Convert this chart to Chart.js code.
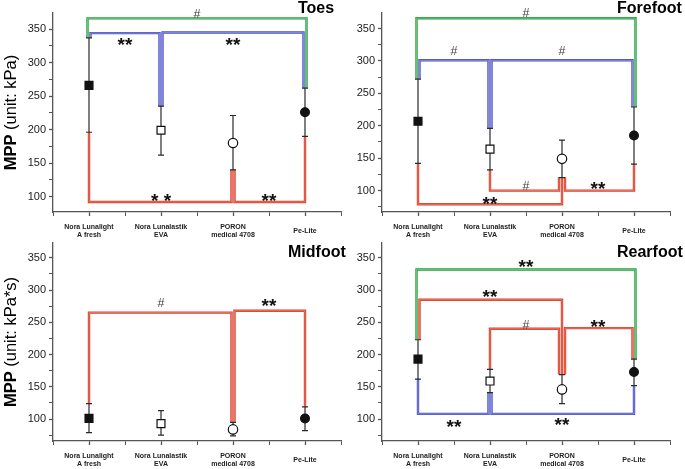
<!DOCTYPE html>
<html>
<head>
<meta charset="utf-8">
<script src="https://cdn.jsdelivr.net/npm/chart.js@4.4.0/dist/chart.umd.min.js"></script>
<style>
  html, body { margin: 0; padding: 0; background: #fff; }
  #wrap { position: relative; width: 685px; height: 469px; overflow: hidden; }
  #wrap canvas { position: absolute; left: 0; top: 0; }
</style>
</head>
<body>
<div id="wrap">
  <canvas id="cToes" width="685" height="469"></canvas>
  <canvas id="cForefoot" width="685" height="469"></canvas>
  <canvas id="cMidfoot" width="685" height="469"></canvas>
  <canvas id="cRearfoot" width="685" height="469"></canvas>
</div>
<script>
// insole materials (x categories)
const materials = [['Nora Lunalight', 'A fresh'], ['Nora Lunalastik', 'EVA'], ['PORON', 'medical 4708'], ['Pe-Lite']];
const yTickLabels = [100, 150, 200, 250, 300, 350];

// mean peak pressure and error bar ends, per foot region
const toesMean = [266, 199, 180, 226];
const toesLow = [196, 162, 140, 190];
const toesHigh = [337, 235, 221, 262];

const forefootMean = [207, 164, 149, 185];
const forefootLow = [142, 132, 120, 141];
const forefootHigh = [272, 196, 178, 229];

const midfootMean = [101, 93, 84, 101];
const midfootLow = [79, 75, 74, 82];
const midfootHigh = [124, 113, 95, 119];

const rearfootMean = [193, 159, 146, 173];
const rearfootLow = [162, 141, 124, 152];
const rearfootHigh = [223, 177, 169, 193];

// significance brackets: [from, to, startValue, level, endValue, mark, markValue, group]
const toesBrackets = [
  [1, 4, 337, 366, 262, '#', 373, 'g'],
  [1, 2, 337, 344, 235, '**', 332, 'b'],
  [2, 4, 235, 345, 262, '**', 332, 'b'],
  [1, 3, 196, 92, 140, '* *', 99, 'r'],
  [3, 4, 140, 92, 190, '**', 98, 'r']
];
const forefootBrackets = [
  [1, 4, 272, 366, 229, '#', 375, 'g'],
  [1, 2, 272, 301, 196, '#', 316, 'b'],
  [2, 4, 196, 301, 229, '#', 316, 'b'],
  [1, 3, 142, 79, 121, '**', 84, 'r'],
  [2, 3, 132, 100, 121, '#', 108, 'r'],
  [3, 4, 121, 100, 141, '**', 108, 'r']
];
const midfootBrackets = [
  [1, 3, 124, 265, 95, '#', 280, 'r'],
  [3, 4, 95, 268, 119, '**', 281, 'r']
];
const rearfootBrackets = [
  [1, 4, 223, 332, 193, '**', 341, 'g'],
  [1, 3, 223, 285, 169, '**', 294, 'r'],
  [2, 3, 177, 240, 169, '#', 247, 'r'],
  [3, 4, 169, 241, 193, '**', 248.5, 'r'],
  [1, 2, 162, 108, 141, '**', 93, 'b'],
  [2, 4, 141, 108, 152, '**', 96, 'b']
];

const LINE = {
  g: ['#22a03c', '#86d093'],
  b: ['#4a52c4', '#9ca1e4'],
  r: ['#dd3f2a', '#ef8a7c']
};
const FONT = "'Liberation Sans', Arial, sans-serif";

const panels = [
  { id: 'cToes', title: 'Toes', titlePos: [298, 13], yTitle: ['MPP', ' (unit: kPa)'], min: 77, max: 374,
    mean: toesMean, low: toesLow, high: toesHigh, brackets: toesBrackets, area: [53, 341, 13, 212] },
  { id: 'cForefoot', title: 'Forefoot', titlePos: [617, 13], yTitle: null, min: 67, max: 374,
    mean: forefootMean, low: forefootLow, high: forefootHigh, brackets: forefootBrackets, area: [382, 670, 13, 212] },
  { id: 'cMidfoot', title: 'Midfoot', titlePos: [288, 257], yTitle: ['MPP', ' (unit: kPa*s)'], min: 66, max: 373,
    mean: midfootMean, low: midfootLow, high: midfootHigh, brackets: midfootBrackets, area: [53, 341, 243, 441] },
  { id: 'cRearfoot', title: 'Rearfoot', titlePos: [617, 257], yTitle: null, min: 66, max: 373,
    mean: rearfootMean, low: rearfootLow, high: rearfootHigh, brackets: rearfootBrackets, area: [382, 670, 243, 441] }
];

// spread bracket ends that meet at the same material so they sit side by side
function endOffsets(list) {
  const groups = {};
  const out = list.map(() => [0, 0]);
  list.forEach((b, i) => {
    const [from, to, v1, level] = b;
    const dir = level > v1 ? 'up' : 'down';
    const span = to - from;
    (groups[from + dir] = groups[from + dir] || []).push({ i, side: 0, type: 'L', span });
    (groups[to + dir] = groups[to + dir] || []).push({ i, side: 1, type: 'R', span });
  });
  Object.values(groups).forEach(g => {
    const rs = g.filter(e => e.type === 'R').sort((a, b) => a.span - b.span);
    const ls = g.filter(e => e.type === 'L').sort((a, b) => b.span - a.span);
    const order = rs.concat(ls);
    order.forEach((e, k) => { out[e.i][e.side] = (k - (order.length - 1) / 2) * 3; });
  });
  return out;
}

function drawCentered(ctx, text, x, y) {
  const m = ctx.measureText(text);
  ctx.fillText(text, x, y + (m.actualBoundingBoxAscent - m.actualBoundingBoxDescent) / 2);
}

const panelPlugin = {
  id: 'panelDecor',
  beforeDatasetsDraw(chart, args, opts) {
    const { ctx, scales: { x, y } } = chart;
    const p = opts.panel;
    const offs = endOffsets(p.brackets);
    ctx.save();
    ctx.lineJoin = 'miter';
    ctx.lineCap = 'butt';
    p.brackets.forEach((b, i) => {
      const [from, to, v1, level, v2, , , grp] = b;
      const x1 = x.getPixelForValue(from) + offs[i][0];
      const x2 = x.getPixelForValue(to) + offs[i][1];
      ctx.beginPath();
      ctx.moveTo(x1, y.getPixelForValue(v1));
      ctx.lineTo(x1, y.getPixelForValue(level));
      ctx.lineTo(x2, y.getPixelForValue(level));
      ctx.lineTo(x2, y.getPixelForValue(v2));
      ctx.strokeStyle = LINE[grp][0];
      ctx.lineWidth = 2.4;
      ctx.stroke();
      ctx.strokeStyle = LINE[grp][1];
      ctx.lineWidth = 0.7;
      ctx.stroke();
    });

    // error bars
    ctx.strokeStyle = '#2a2a2a';
    ctx.lineWidth = 1.2;
    p.mean.forEach((m, i) => {
      const px = x.getPixelForValue(i + 1);
      const yl = y.getPixelForValue(p.low[i]);
      const yh = y.getPixelForValue(p.high[i]);
      ctx.beginPath();
      ctx.moveTo(px, yl); ctx.lineTo(px, yh);
      ctx.moveTo(px - 3, yl); ctx.lineTo(px + 3, yl);
      ctx.moveTo(px - 3, yh); ctx.lineTo(px + 3, yh);
      ctx.stroke();
    });
    ctx.restore();
  },
  afterDraw(chart, args, opts) {
    const { ctx, chartArea, scales: { x, y } } = chart;
    const p = opts.panel;
    ctx.save();
    ctx.textAlign = 'center';
    p.brackets.forEach(b => {
      const [from, to, , , , mark, markAt] = b;
      const mx = x.getPixelForValue((from + to) / 2);
      const my = y.getPixelForValue(markAt);
      if (mark === '#') {
        ctx.font = '12.5px ' + FONT;
        ctx.fillStyle = '#444';
      } else {
        ctx.font = 'bold 19px ' + FONT;
        ctx.fillStyle = '#111';
      }
      drawCentered(ctx, mark, mx, my);
    });

    // panel title
    ctx.textAlign = 'left';
    ctx.textBaseline = 'alphabetic';
    ctx.fillStyle = '#000';
    ctx.font = 'bold 16px ' + FONT;
    ctx.fillText(p.title, p.titlePos[0], p.titlePos[1]);

    // y axis title, bold "MPP" followed by the unit
    if (p.yTitle) {
      const cy = (chartArea.top + chartArea.bottom) / 2;
      ctx.translate(15.5, cy);
      ctx.rotate(-Math.PI / 2);
      ctx.font = 'bold 16.5px ' + FONT;
      const w1 = ctx.measureText(p.yTitle[0]).width;
      ctx.font = '16.5px ' + FONT;
      const w2 = ctx.measureText(p.yTitle[1]).width;
      const start = -(w1 + w2) / 2;
      ctx.font = 'bold 16.5px ' + FONT;
      ctx.fillText(p.yTitle[0], start, 0);
      ctx.font = '16.5px ' + FONT;
      ctx.fillText(p.yTitle[1], start + w1, 0);
    }
    ctx.restore();
  }
};

function makeChart(p) {
  const canvas = document.getElementById(p.id);
  const [left, right, top, bottom] = p.area;
  return new Chart(canvas.getContext('2d'), {
    type: 'scatter',
    data: {
      datasets: [{
        data: p.mean.map((v, i) => ({ x: i + 1, y: v })),
        pointStyle: ['rect', 'rect', 'circle', 'circle'],
        pointRadius: [5.6, 5.6, 4.7, 4.4],
        backgroundColor: ['#111', '#fff', '#fff', '#111'],
        borderColor: '#111',
        borderWidth: 1.2,
        showLine: false,
        clip: false
      }]
    },
    options: {
      responsive: false,
      animation: false,
      devicePixelRatio: 1,
      events: [],
      layout: { padding: { left: left - 53, right: 685 - right, top: top, bottom: 469 - bottom - 25 } },
      plugins: {
        legend: { display: false },
        tooltip: { enabled: false },
        panelDecor: { panel: p }
      },
      scales: {
        x: {
          type: 'linear',
          min: 0.5,
          max: 4.5,
          afterFit: s => { s.height = 25; },
          border: { display: true, color: '#555', width: 1.3 },
          grid: { drawOnChartArea: false, tickLength: 4, tickColor: '#555',
                  tickWidth: c => Number.isInteger(c.tick.value) ? 1.3 : 1 },
          ticks: {
            stepSize: 0.5,
            autoSkip: false,
            maxRotation: 0,
            crossAlign: 'center',
            padding: 11,
            color: '#222',
            font: { family: FONT, size: 7, weight: 'bold', lineHeight: 1.2 },
            callback: v => Number.isInteger(v) ? materials[v - 1] : ''
          }
        },
        y: {
          min: p.min,
          max: p.max,
          afterFit: s => { s.width = 53; },
          border: { display: true, color: '#555', width: 1.3 },
          grid: { drawOnChartArea: false, tickLength: 4, tickColor: '#555',
                  tickWidth: c => yTickLabels.includes(c.tick.value) ? 1.3 : 1 },
          ticks: {
            stepSize: 25,
            includeBounds: false,
            autoSkip: false,
            maxTicksLimit: 100,
            padding: 3,
            color: '#222',
            font: { family: FONT, size: 11 },
            callback: v => yTickLabels.includes(v) ? String(v) : ''
          }
        }
      }
    },
    plugins: [panelPlugin]
  });
}

panels.forEach(makeChart);
</script>
</body>
</html>
